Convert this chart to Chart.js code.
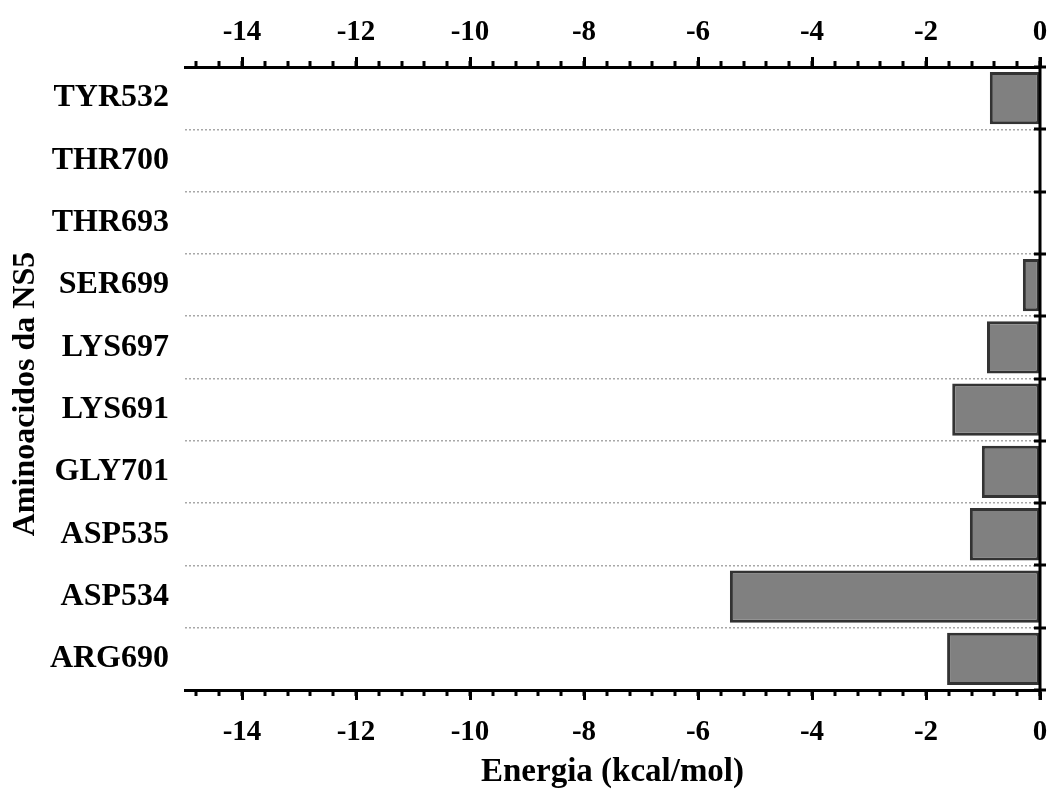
<!DOCTYPE html>
<html>
<head>
<meta charset="utf-8">
<title>Energia por aminoacido</title>
<script src="https://cdn.jsdelivr.net/npm/chart.js@4/dist/chart.umd.min.js"></script>
<style>
    html, body { margin: 0; padding: 0; background: #fff; }
    #wrap { width: 1051px; height: 792px; }
</style>
</head>
<body>
<div id="wrap"><canvas id="energiaChart" width="1051" height="792"></canvas></div>
<script>
// Données
const residues = ['TYR532', 'THR700', 'THR693', 'SER699', 'LYS697', 'LYS691', 'GLY701', 'ASP535', 'ASP534', 'ARG690'];
const energies = [-0.88, 0, 0, -0.30, -0.93, -1.54, -1.02, -1.23, -5.44, -1.63];
const xTickValues = [-14, -12, -10, -8, -6, -4, -2, 0];
const xMin = -15;
const xMax = 0;
const minorStep = 0.4;

const FONT = "'Liberation Serif', 'Times New Roman', serif";

// Petits traits secondaires + axe vertical à x = 0
const axesPlugin = {
    id: 'axesPlugin',
    afterDraw(chart) {
        const ctx = chart.ctx;
        const area = chart.chartArea;
        const xs = chart.scales.x;
        const ys = chart.scales.y;
        ctx.save();
        ctx.strokeStyle = '#000';
        ctx.lineWidth = 3;

        function drawMinor(v) {
            const x = Math.round(xs.getPixelForValue(v));
            ctx.beginPath();
            ctx.moveTo(x, area.top);
            ctx.lineTo(x, area.top - 6);
            ctx.moveTo(x, area.bottom);
            ctx.lineTo(x, area.bottom + 6);
            ctx.stroke();
        }
        // traits secondaires (haut et bas)
        for (let k = 0; ; k++) {
            const v = xTickValues[0] - minorStep * k;
            if (v < xMin - 1e-6) break;
            drawMinor(v);
        }
        for (let k = 1; ; k++) {
            const v = xTickValues[0] + minorStep * k;
            if (v > xMax + 1e-6) break;
            drawMinor(v);
        }

        // axe vertical à zéro
        const x0 = Math.round(xs.getPixelForValue(0));
        ctx.beginPath();
        ctx.moveTo(x0, area.top - 10);
        ctx.lineTo(x0, area.bottom + 10);
        ctx.stroke();
        for (let i = 0; i <= residues.length; i++) {
            const y = Math.round(ys.getPixelForValue(i - 0.5));
            ctx.beginPath();
            ctx.moveTo(x0 - 6, y);
            ctx.lineTo(x0 + 6, y);
            ctx.stroke();
        }

        // titre de l'axe vertical
        ctx.fillStyle = '#000';
        ctx.font = 'bold 32px ' + FONT;
        ctx.translate(26, 394);
        ctx.rotate(-Math.PI / 2);
        ctx.textAlign = 'center';
        ctx.textBaseline = 'middle';
        ctx.fillText('Aminoacidos da NS5', 0, 0);
        ctx.restore();
    }
};

function setMajorTicks(scale) {
    scale.ticks = xTickValues.map(v => ({ value: v }));
}

function xScale(position, pad, height) {
    return {
        type: 'linear',
        position: position,
        min: xMin,
        max: xMax,
        afterBuildTicks: setMajorTicks,
        afterFit(scale) {
            scale.height = height;
            scale.paddingLeft = 0;
            scale.paddingRight = 0;
        },
        border: { display: true, color: '#000', width: 3 },
        grid: {
            drawOnChartArea: false,
            drawTicks: true,
            tickLength: 10,
            tickWidth: 3,
            tickColor: '#000'
        },
        ticks: {
            color: '#000',
            font: { family: FONT, size: 29, weight: 'bold' },
            maxRotation: 0,
            padding: pad
        }
    };
}

const xBottom = xScale('bottom', 15, 102);
xBottom.title = {
    display: true,
    text: 'Energia (kcal/mol)',
    color: '#000',
    font: { family: FONT, size: 33, weight: 'bold' },
    padding: { top: 0, bottom: 0 }
};

const xTop = xScale('top', 7, 67);

const ctx = document.getElementById('energiaChart').getContext('2d');
const chart = new Chart(ctx, {
    type: 'bar',
    data: {
        labels: residues,
        datasets: [{
            data: energies,
            backgroundColor: '#808080',
            borderColor: '#333333',
            borderWidth: 3,
            borderSkipped: false,
            categoryPercentage: 1,
            barPercentage: 0.84
        }]
    },
    options: {
        indexAxis: 'y',
        responsive: false,
        animation: false,
        layout: { padding: { left: 0, right: 11, top: 0, bottom: 0 } },
        plugins: {
            legend: { display: false },
            tooltip: { enabled: false }
        },
        scales: {
            x: xBottom,
            x2: xTop,
            y: {
                position: 'left',
                afterFit(scale) { scale.width = 185; },
                border: { display: false, dash: [2, 2] },
                grid: {
                    offset: true,
                    drawTicks: false,
                    color: '#a8a8a8',
                    lineWidth: 1.5
                },
                ticks: {
                    color: '#000',
                    font: { family: FONT, size: 32, weight: 'bold' },
                    padding: 16
                }
            }
        }
    },
    plugins: [axesPlugin]
});
</script>
</body>
</html>
